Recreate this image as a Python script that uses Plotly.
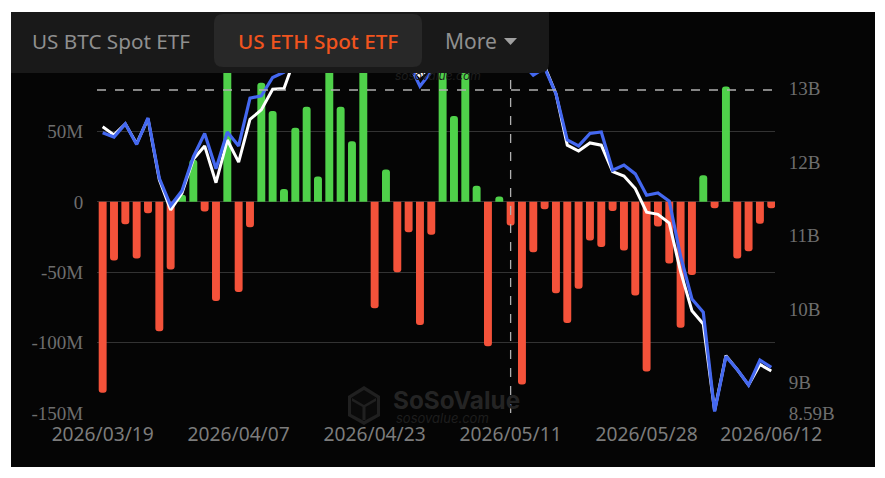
import plotly.graph_objects as go

# the page has an 8px body margin, so the figure is 8px smaller than the window
W, H = 877, 470
PLOT_L, PLOT_R, PLOT_T, PLOT_B = 97, 775, 12, 413

dates = [
    "2026/03/19", "2026/03/20", "2026/03/23", "2026/03/24", "2026/03/25", "2026/03/26", "2026/03/27",
    "2026/03/30", "2026/03/31", "2026/04/01", "2026/04/02", "2026/04/06", "2026/04/07", "2026/04/08",
    "2026/04/09", "2026/04/10", "2026/04/13", "2026/04/14", "2026/04/15", "2026/04/16", "2026/04/17",
    "2026/04/20", "2026/04/21", "2026/04/22", "2026/04/23", "2026/04/24", "2026/04/27", "2026/04/28",
    "2026/04/29", "2026/04/30", "2026/05/01", "2026/05/04", "2026/05/05", "2026/05/06", "2026/05/07",
    "2026/05/08", "2026/05/11", "2026/05/12", "2026/05/13", "2026/05/14", "2026/05/15", "2026/05/18",
    "2026/05/19", "2026/05/20", "2026/05/21", "2026/05/22", "2026/05/26", "2026/05/27", "2026/05/28",
    "2026/05/29", "2026/06/01", "2026/06/02", "2026/06/03", "2026/06/04", "2026/06/05", "2026/06/08",
    "2026/06/09", "2026/06/10", "2026/06/11", "2026/06/12",
]

# daily net inflow, USD millions (the tallest green bars run up behind the tab bar)
net_inflow = [
    -135.6, -41.7, -15.9, -40.2, -8.0, -92.0, -48.0, 5.0, 30.0, -6.9,
    -70.5, 120.0, -64.0, -18.0, 84.7, 64.6, 9.2, 52.6, 67.5, 18.0,
    110.0, 67.5, 43.0, 125.0, -75.5, 23.0, -50.0, -21.6, -87.4, -23.4,
    130.0, 61.0, 115.0, 11.4, -102.5, 3.8, -16.8, -129.7, -35.8, -5.2,
    -65.0, -86.0, -61.8, -27.5, -32.0, -6.4, -34.6, -66.5, -120.5, -17.5,
    -43.8, -89.5, -52.0, 19.0, -4.5, 82.0, -40.2, -35.0, -15.6, -4.5,
]

# total net assets, USD billions
net_assets = [
    12.48, 12.37, 12.52, 12.25, 12.59, 11.76, 11.35, 11.58, 12.04, 12.22,
    11.72, 12.30, 12.00, 12.58, 12.71, 12.99, 13.00, 13.43, 13.50, 13.45,
    13.60, 13.75, 13.65, 13.70, 13.55, 13.60, 13.40, 13.32, 13.17, 13.30,
    13.45, 13.60, 13.75, 13.80, 13.65, 13.70, 13.55, 13.30, 13.25, 13.30,
    12.93, 12.23, 12.15, 12.26, 12.23, 11.87, 11.81, 11.64, 11.32, 11.29,
    11.17, 10.51, 9.98, 9.80, 8.62, 9.37, 9.18, 8.97, 9.25, 9.16,
]

# ETH price line, rescaled on the same right axis
price_line = [
    12.40, 12.34, 12.52, 12.24, 12.60, 11.78, 11.41, 11.61, 12.07, 12.39,
    11.91, 12.41, 12.22, 12.87, 12.90, 13.15, 13.22, 13.45, 13.60, 13.55,
    13.70, 13.85, 13.75, 13.80, 13.65, 13.70, 13.45, 13.35, 13.03, 13.23,
    13.50, 13.65, 13.80, 13.85, 13.70, 13.75, 13.60, 13.35, 13.18, 13.28,
    12.93, 12.30, 12.22, 12.39, 12.41, 11.89, 11.96, 11.84, 11.55, 11.58,
    11.47, 10.72, 10.14, 9.96, 8.61, 9.36, 9.18, 8.97, 9.31, 9.21,
]

x_ticks = ["2026/03/19", "2026/04/07", "2026/04/23", "2026/05/11", "2026/05/28", "2026/06/12"]
left_ticks = [-150, -100, -50, 0, 50]
left_labels = ["-150M", "-100M", "-50M", "0", "50M"]
right_ticks = [8.59, 9, 10, 11, 12, 13]
right_labels = ["8.59B", "9B", "10B", "11B", "12B", "13B"]

crosshair_date = "2026/05/11"
crosshair_value = 79.5


# picture pixels -> paper coordinates (paper is the plot area, not the whole figure)
def px(x):
    return (x - PLOT_L) / (PLOT_R - PLOT_L)


def py(y):
    return (PLOT_B - y) / (PLOT_B - PLOT_T)


def poly(points):
    return "M " + " L ".join(f"{px(x)} {py(y)}" for x, y in points) + " Z"


def round_rect(x0, y0, x1, y1, r=(8, 8, 8, 8)):
    # r = top-left, top-right, bottom-right, bottom-left, all in pixels
    tl, tr, br, bl = r
    return (
        f"M {px(x0 + tl)} {py(y0)} L {px(x1 - tr)} {py(y0)} "
        f"Q {px(x1)} {py(y0)} {px(x1)} {py(y0 + tr)} L {px(x1)} {py(y1 - br)} "
        f"Q {px(x1)} {py(y1)} {px(x1 - br)} {py(y1)} L {px(x0 + bl)} {py(y1)} "
        f"Q {px(x0)} {py(y1)} {px(x0)} {py(y1 - bl)} L {px(x0)} {py(y0 + tl)} "
        f"Q {px(x0)} {py(y0)} {px(x0 + tl)} {py(y0)} Z"
    )


def paper_shape(path, color, layer="above"):
    return dict(type="path", xref="paper", yref="paper", path=path, fillcolor=color,
                line=dict(width=0), layer=layer)


def label(text, x, y, size, color, family="Noto Sans", xanchor="center", weight=None, style=None):
    font = dict(family=family, size=size, color=color)
    if weight:
        font["weight"] = weight
    if style:
        font["style"] = style
    return dict(text=text, x=px(x), y=py(y), xref="paper", yref="paper", showarrow=False,
                xanchor=xanchor, yanchor="middle", font=font)


fig = go.Figure()

fig.add_trace(go.Bar(
    x=dates,
    y=net_inflow,
    marker=dict(color=["#4fd14a" if v >= 0 else "#f4523a" for v in net_inflow], line=dict(width=0)),
    yaxis="y",
))
fig.add_trace(go.Scatter(
    x=dates, y=net_assets, mode="lines", line=dict(color="#ffffff", width=3), yaxis="y2",
))
fig.add_trace(go.Scatter(
    x=dates, y=price_line, mode="lines", line=dict(color="#4468f0", width=3.2), yaxis="y2",
))

hex_outer = poly([(364, 386), (380, 396), (380, 416), (364, 425), (348, 416), (348, 396)])
hex_inner = poly([(364, 390), (377, 398), (377, 414), (364, 421), (351, 414), (351, 398)])
hex_cube = poly([(352, 398), (364, 405), (376, 398), (376, 401), (365.5, 407), (365.5, 420),
                 (362.5, 420), (362.5, 407), (352, 401)])
caret = poly([(504, 38), (517, 38), (510.5, 45)])

shapes = [
    # dark card behind the chart
    dict(type="rect", xref="paper", yref="paper", x0=px(11), x1=px(875), y0=py(467), y1=py(12),
         fillcolor="#050505", line=dict(width=0), layer="below"),
    paper_shape(hex_outer, "#202020", layer="below"),
    paper_shape(hex_inner, "#0a0a0a", layer="below"),
    paper_shape(hex_cube, "#202020", layer="below"),
    # crosshair
    dict(type="line", xref="paper", yref="y", x0=0, x1=1, y0=crosshair_value, y1=crosshair_value,
         line=dict(color="#b0b0b0", width=1.3, dash="dash")),
    dict(type="line", xref="x", yref="paper", x0=crosshair_date, x1=crosshair_date, y0=0, y1=1,
         line=dict(color="#b0b0b0", width=1.3, dash="dash")),
    # tab bar sits over the top of the plot
    paper_shape(round_rect(11, 12, 549, 73, r=(0, 0, 10, 0)), "#191919"),
    paper_shape(round_rect(214, 14, 422, 67, r=(9, 9, 9, 9)), "#282828"),
    paper_shape(caret, "#a0a0a0"),
]

annotations = [
    label("US BTC Spot ETF", 110.5, 41, 20.7, "#8f8f8f"),
    label("US ETH Spot ETF", 317.5, 41, 20.7, "#f0541e", weight=500),
    label("More", 470.5, 41, 21, "#8f8f8f"),
    label("SoSoValue", 456.5, 400, 24.3, "#242424", family="Inter", weight=700),
    label("sosovalue.com", 394, 418, 13, "#1e1e1e", family="Inter", xanchor="left", style="italic"),
    label("sosovalue.com", 393, 75, 12, "#1e1e1e", family="Inter", xanchor="left", style="italic"),
]

fig.update_layout(
    width=W,
    height=H,
    margin=dict(l=PLOT_L - 8, r=W + 8 - PLOT_R, t=PLOT_T - 8, b=H + 8 - PLOT_B),
    paper_bgcolor="#ffffff",
    plot_bgcolor="rgba(0,0,0,0)",
    showlegend=False,
    bargap=0.3,
    barcornerradius=4,
    shapes=shapes,
    annotations=annotations,
    xaxis=dict(
        type="category",
        categoryorder="array",
        categoryarray=dates,
        range=[-0.5, 59.33],
        tickmode="array",
        tickvals=x_ticks,
        ticktext=x_ticks,
        showgrid=False,
        zeroline=False,
        showline=False,
        ticks="outside",
        ticklen=4,
        tickcolor="rgba(0,0,0,0)",
        tickangle=0,
        tickfont=dict(family="Noto Sans", size=19.2, color="#7c7c7c"),
    ),
    yaxis=dict(
        range=[-150, 134.9],
        tickmode="array",
        tickvals=left_ticks,
        ticktext=left_labels,
        showgrid=True,
        gridcolor="#333333",
        gridwidth=1,
        zeroline=False,
        ticks="outside",
        ticklen=9,
        tickcolor="rgba(0,0,0,0)",
        tickfont=dict(family="Liberation Serif", size=19, color="#6e6e6e"),
    ),
    yaxis2=dict(
        overlaying="y",
        side="right",
        range=[8.59, 14.04],
        tickmode="array",
        tickvals=right_ticks,
        ticktext=right_labels,
        showgrid=False,
        zeroline=False,
        ticks="outside",
        ticklen=9,
        tickcolor="rgba(0,0,0,0)",
        tickfont=dict(family="Liberation Serif", size=19, color="#6e6e6e"),
    ),
)

fig.write_html("out.html")
